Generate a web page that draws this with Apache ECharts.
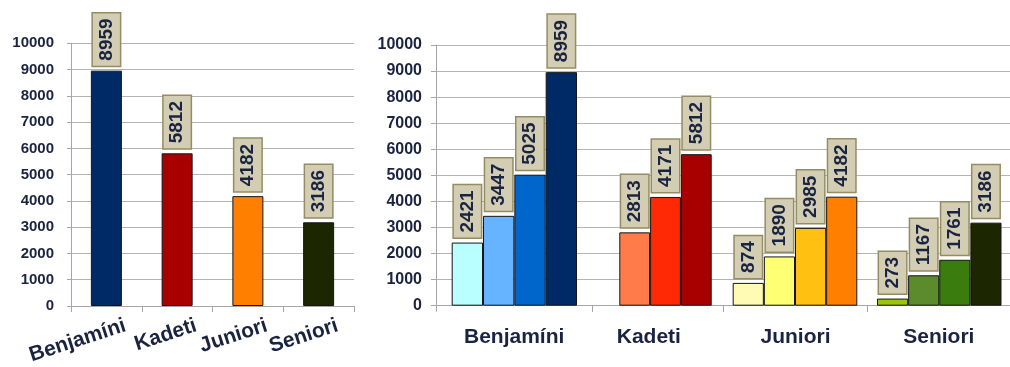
<!DOCTYPE html>
<html>
<head>
<meta charset="utf-8">
<script src="https://cdn.jsdelivr.net/npm/echarts@6/dist/echarts.min.js"></script>
<style>
  html, body { margin: 0; padding: 0; background: #ffffff; }
  #chart { width: 1010px; height: 367px; }
</style>
</head>
<body>
<div id="chart"></div>
<script>
// Age groups and membership counts
const groups = ['Benjamíni', 'Kadeti', 'Juniori', 'Seniori'];
const totals = [8959, 5812, 4182, 3186];
const benjamini = [2421, 3447, 5025, 8959];
const kadeti = [2813, 4171, 5812];
const juniori = [874, 1890, 2985, 4182];
const seniori = [273, 1167, 1761, 3186];

// Value axis range
const yMin = 0;
const yMax = 10000;
const yStep = 1000;

// Bar colours
const totalColors = ['#002a66', '#a80000', '#ff7f00', '#1c2600'];
const benjaminiColors = ['#b9ffff', '#66b3ff', '#0066cc', '#002a66'];
const kadetiColors = ['#ff7b4a', '#ff2a05', '#a80000'];
const juniorColors = ['#fffab4', '#ffff73', '#ffc012', '#ff7f00'];
const seniorColors = ['#99c700', '#5b8b2d', '#3a7d0e', '#1c2600'];

const FONT = '"Liberation Sans", Arial, sans-serif';
const TEXT = '#1a2340';
const GRID_LINE = '#b4b4b4';
const AXIS_LINE = '#a6a6a6';

function valueLabel() {
  return {
    show: true, position: 'top', rotate: 90, align: 'left', verticalAlign: 'middle',
    distance: 5, color: TEXT, fontFamily: FONT, fontWeight: 'bold', fontSize: 19, lineHeight: 19,
    backgroundColor: '#d3ceb3', borderColor: '#948c62', borderWidth: 1.5, padding: [4, 5]
  };
}
function items(values, colors) {
  return values.map((v, i) => ({ value: v, itemStyle: { color: colors[i] } }));
}
function hiddenY(gridIndex) {
  return { type: 'value', gridIndex, min: yMin, max: yMax, interval: yStep, show: false };
}
function visibleY(gridIndex, fontSize, margin, tickLen) {
  return {
    type: 'value', gridIndex, min: yMin, max: yMax, interval: yStep,
    axisLine: { show: true, lineStyle: { color: AXIS_LINE, width: 1 } },
    axisTick: { show: true, length: tickLen, lineStyle: { color: AXIS_LINE } },
    splitLine: { show: true, lineStyle: { color: GRID_LINE, width: 1.2 } },
    axisLabel: {
      color: TEXT, fontFamily: FONT, fontWeight: 'bold', fontSize, margin,
      formatter: (v) => String(v)
    }
  };
}
const barStyle = { borderColor: '#151515', borderWidth: 1 };

// Layout of the right-hand chart: axis sections and bar blocks per group
const plotTop = 45, plotBottom = 61.3;
const sections = [[436, 592.3], [592.3, 723.3], [723.3, 867.7], [867.7, 1010]];
const blocks = [[451.7, 577], [619.3, 711.7], [732.7, 857.3], [877, 1001.5]];
const groupValues = [benjamini, kadeti, juniori, seniori];
const groupColors = [benjaminiColors, kadetiColors, juniorColors, seniorColors];

const grid = [
  { left: 71, width: 283, top: 43.3, bottom: 61 },     // 0 left chart
  { left: 90, width: 283, top: 43.3, bottom: 61 },     // 1 left chart category labels
  { left: 436, right: 0, top: plotTop, bottom: plotBottom } // 2 right chart value axis
];
const xAxis = [
  {
    type: 'category', gridIndex: 0, data: groups,
    axisLine: { show: true, lineStyle: { color: AXIS_LINE } },
    axisTick: { show: true, length: 6, lineStyle: { color: AXIS_LINE } },
    axisLabel: { show: false }
  },
  {
    type: 'category', gridIndex: 1, data: groups,
    axisLine: { show: false }, axisTick: { show: false },
    axisLabel: { rotate: 18, margin: 21, interval: 0, color: TEXT, fontFamily: FONT, fontWeight: 'bold', fontSize: 21 }
  },
  { type: 'category', gridIndex: 2, data: [''], show: false }
];
const yAxis = [visibleY(0, 15, 17, 4), hiddenY(1), visibleY(2, 16, 14, 5)];
const series = [
  {
    type: 'bar', xAxisIndex: 0, yAxisIndex: 0, barWidth: 31,
    data: items(totals, totalColors), itemStyle: barStyle, label: valueLabel()
  }
];

// Group sections: axis line, boundary ticks and group name
sections.forEach((s, i) => {
  const gi = grid.length;
  grid.push({ left: s[0], width: s[1] - s[0], top: plotTop, bottom: plotBottom });
  xAxis.push({
    type: 'category', gridIndex: gi, data: [groups[i]],
    axisLine: { show: true, lineStyle: { color: AXIS_LINE } },
    axisTick: { show: true, length: 6, lineStyle: { color: AXIS_LINE } },
    axisLabel: {
      margin: 21, color: TEXT, fontFamily: FONT, fontWeight: 'bold', fontSize: 21,
      padding: i === 1 ? [0, 18, 0, 0] : 0
    }
  });
  yAxis.push(hiddenY(gi));
});

// Group bar blocks
blocks.forEach((b, i) => {
  const gi = grid.length;
  grid.push({ left: b[0], width: b[1] - b[0], top: plotTop, bottom: plotBottom });
  xAxis.push({ type: 'category', gridIndex: gi, data: groupValues[i].map((_, k) => String(k)), show: false });
  yAxis.push(hiddenY(gi));
  series.push({
    type: 'bar', xAxisIndex: gi, yAxisIndex: gi, barWidth: '100%', barCategoryGap: 0,
    data: items(groupValues[i], groupColors[i]), itemStyle: barStyle, label: valueLabel()
  });
});

const chart = echarts.init(document.getElementById('chart'), null, { renderer: 'canvas' });
chart.setOption({
  backgroundColor: '#ffffff',
  animation: false,
  grid, xAxis, yAxis, series
});
</script>
</body>
</html>
